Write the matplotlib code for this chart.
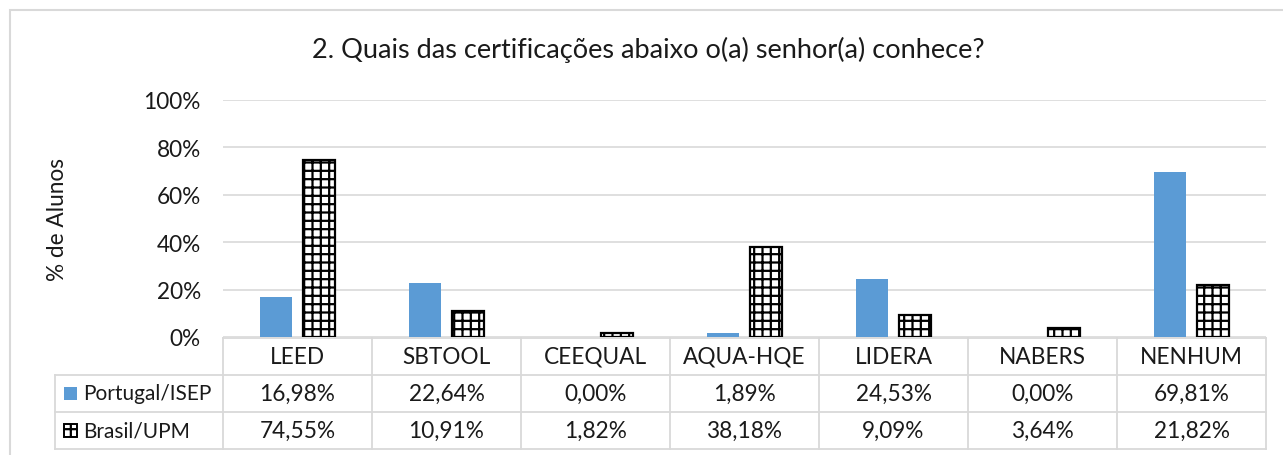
import matplotlib.pyplot as plt
import matplotlib.transforms as mtransforms
from matplotlib.patches import Rectangle
import numpy as np

plt.rcParams['font.family'] = ['Lato', 'DejaVu Sans']
plt.rcParams['hatch.linewidth'] = 1.6

# --- dados ---
categorias = ['LEED', 'SBTOOL', 'CEEQUAL', 'AQUA-HQE', 'LIDERA', 'NABERS', 'NENHUM']
portugal = [16.98, 22.64, 0.00, 1.89, 24.53, 0.00, 69.81]
brasil = [74.55, 10.91, 1.82, 38.18, 9.09, 3.64, 21.82]
series = ['Portugal/ISEP', 'Brasil/UPM']
yticks = [0, 20, 40, 60, 80, 100]

azul = '#5B9BD5'
cinza = '#D9D9D9'
texto = '#1a1a1a'
fs = 16.3
W, H = 1283, 456

fig = plt.figure(figsize=(W / 100, H / 100), dpi=100)
ax = fig.add_axes([223 / W, 1 - 338 / H, (1266 - 223) / W, (338 - 101) / H])

x = np.arange(len(categorias))
largura = 0.22
ax.bar(x - 0.145, portugal, largura, color=azul, zorder=3)
ax.bar(x + 0.145, brasil, largura, color='white', edgecolor='black',
       hatch='++', linewidth=1.6, zorder=3)

ax.set_xlim(-0.5, len(categorias) - 0.5)
ax.set_ylim(0, 100)
ax.set_yticks(yticks)
ax.set_yticklabels([f'{v}%' for v in yticks], fontsize=fs, color=texto)
ax.set_xticks([])
ax.tick_params(axis='y', length=0, pad=16)
ax.yaxis.grid(True, color=cinza, linewidth=1.2, zorder=0)
for s in ax.spines.values():
    s.set_visible(False)

ax.set_ylabel('% de Alunos', fontsize=fs, color=texto, labelpad=54)

fig.text(0.505, 1 - 50 / H, '2. Quais das certificações abaixo o(a) senhor(a) conhece?',
         ha='center', va='center', fontsize=19.5, color=texto)

# --- tabela de dados ---
tr = mtransforms.blended_transform_factory(ax.transData, ax.transAxes)
px_y = lambda yp: (338 - yp) / 237.0
xl = -0.5
xr = len(categorias) - 0.5
xleg = -1.6275
linhas = dict(color=cinza, linewidth=1.3, transform=tr, clip_on=False, zorder=1)

y0, y1, y2, y3 = px_y(339), px_y(376), px_y(413), px_y(450)
ax.plot([xl, xr], [y0, y0], **linhas)
for yy in (y1, y2, y3):
    ax.plot([xleg, xr], [yy, yy], **linhas)
for i in range(len(categorias) + 1):
    ax.plot([xl + i, xl + i], [y0, y3], **linhas)
ax.plot([xleg, xleg], [y1, y3], **linhas)

for i, cat in enumerate(categorias):
    ax.text(i, (y0 + y1) / 2, cat, ha='center', va='center', fontsize=fs,
            color=texto, transform=tr, clip_on=False)
    ax.text(i, (y1 + y2) / 2, f'{portugal[i]:.2f}%'.replace('.', ','), ha='center',
            va='center', fontsize=fs, color=texto, transform=tr, clip_on=False)
    ax.text(i, (y2 + y3) / 2, f'{brasil[i]:.2f}%'.replace('.', ','), ha='center',
            va='center', fontsize=fs, color=texto, transform=tr, clip_on=False)

# legendas na tabela
kw = 13 / 149.0
kh = 13 / 237.0
ax.add_patch(Rectangle((-1.567, (y1 + y2) / 2 - kh / 2), kw, kh, facecolor=azul,
                       edgecolor='none', transform=tr, clip_on=False))
ax.add_patch(Rectangle((-1.567, (y2 + y3) / 2 - kh / 2), kw, kh, facecolor='white',
                       edgecolor='black', hatch='++', linewidth=1.4, transform=tr,
                       clip_on=False))
ax.text(-1.44, (y1 + y2) / 2, series[0], ha='left', va='center', fontsize=15,
        color=texto, transform=tr, clip_on=False)
ax.text(-1.44, (y2 + y3) / 2, series[1], ha='left', va='center', fontsize=15,
        color=texto, transform=tr, clip_on=False)

# moldura do gráfico
fig.add_artist(Rectangle((10 / W, -0.1), 1.2, 1.1 - 11 / H, transform=fig.transFigure,
                         facecolor='none', edgecolor=cinza, linewidth=1.5))

fig.savefig('out.png', dpi=100)
